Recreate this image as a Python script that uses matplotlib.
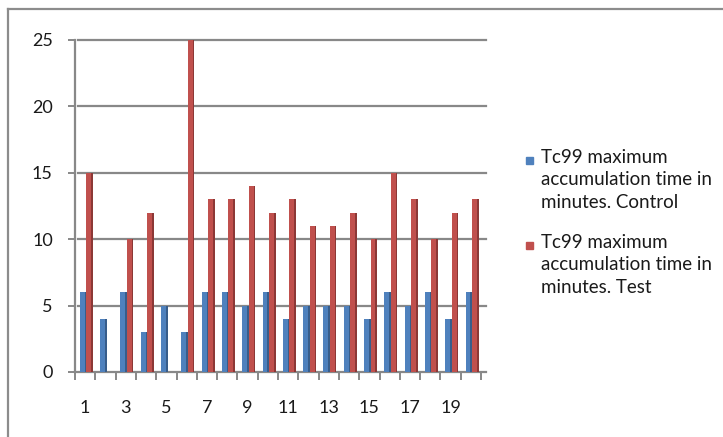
import matplotlib

matplotlib.use("Agg")
import matplotlib.pyplot as plt
import numpy as np
from matplotlib.lines import Line2D
from matplotlib.patches import Rectangle

# values
CATEGORIES = list(range(1, 21))
CONTROL = [6, 4, 6, 3, 5, 3, 6, 6, 5, 6, 4, 5, 5, 5, 4, 6, 5, 6, 4, 6]
TEST = [15, 0, 10, 12, 0, 25, 13, 13, 14, 12, 13, 11, 11, 12, 10, 15, 13, 10, 12, 13]
LABELS = [
    "Tc99 maximum\naccumulation time in\nminutes. Control",
    "Tc99 maximum\naccumulation time in\nminutes. Test",
]
YTICKS = [0, 5, 10, 15, 20, 25]

COLORS = {
    "control": "#4F81BD",
    "control_side": "#385D8A",
    "test": "#C0504D",
    "test_side": "#8C3836",
    "grid": "#888888",
    "frame": "#8C8C8C",
}

W, H = 723, 437
plt.rcParams["font.family"] = ["Lato", "DejaVu Sans"]

fig = plt.figure(figsize=(W / 100, H / 100), dpi=100)
ax = fig.add_axes([75 / W, 1 - 372 / H, 406 / W, 332 / H])

x = np.array(CATEGORIES, dtype=float)
face_w, side_w = 0.24, 0.08
series = [
    (CONTROL, -0.14, COLORS["control"], COLORS["control_side"]),
    (TEST, 0.18, COLORS["test"], COLORS["test_side"]),
]
for values, off, face, side in series:
    vals = np.array(values, dtype=float)
    ax.bar(x + off, vals, width=face_w, color=face, zorder=3)
    ax.bar(x + off + face_w / 2 + side_w / 2, vals, width=side_w, color=side, zorder=3)

for yv in YTICKS[1:]:
    ax.axhline(yv, color=COLORS["grid"], linewidth=1.6, zorder=1,
               xmin=0.008, xmax=1.012, clip_on=False)

ax.set_xlim(0.5, 20.5)
ax.set_ylim(0, 25)
ax.set_yticks(YTICKS)
ax.tick_params(axis="y", length=5, width=1.4, color=COLORS["grid"], pad=11, labelsize=13,
               labelcolor="#1A1A1A")
ax.set_xticks(x[::2])
ax.set_xticklabels([str(c) for c in CATEGORIES[::2]])
ax.set_xticks(np.arange(0.5, 21.0, 1.0), minor=True)
ax.tick_params(axis="x", which="major", length=0, pad=20, labelsize=13, labelcolor="#1A1A1A")
ax.tick_params(axis="x", which="minor", length=6, width=1.4, color=COLORS["grid"])

for name in ("top", "right"):
    ax.spines[name].set_visible(False)
for name in ("left", "bottom"):
    ax.spines[name].set_color(COLORS["grid"])
    ax.spines[name].set_linewidth(1.6)
ax.spines["bottom"].set_bounds(0.5, 20.75)

# legend drawn by hand so the swatch sits on the first text line
legend_y = [160, 245]
for (_, _, face, _), label, ly in zip(series, LABELS, legend_y):
    fig.patches.append(Rectangle((526 / W, 1 - (ly + 4) / H), 7 / W, 7 / H,
                                 transform=fig.transFigure, color=face))
    fig.text(541 / W, 1 - (ly - 11) / H, label, fontsize=13.5, va="top", ha="left",
             linespacing=1.38, color="#1A1A1A")

# outer chart border (left and top visible)
fig.add_artist(Line2D([8 / W, 8 / W], [0, 1 - 9 / H], transform=fig.transFigure,
                      color=COLORS["frame"], linewidth=1.6))
fig.add_artist(Line2D([8 / W, 1], [1 - 9 / H, 1 - 9 / H], transform=fig.transFigure,
                      color=COLORS["frame"], linewidth=1.6))

fig.savefig("out.png", dpi=100)
